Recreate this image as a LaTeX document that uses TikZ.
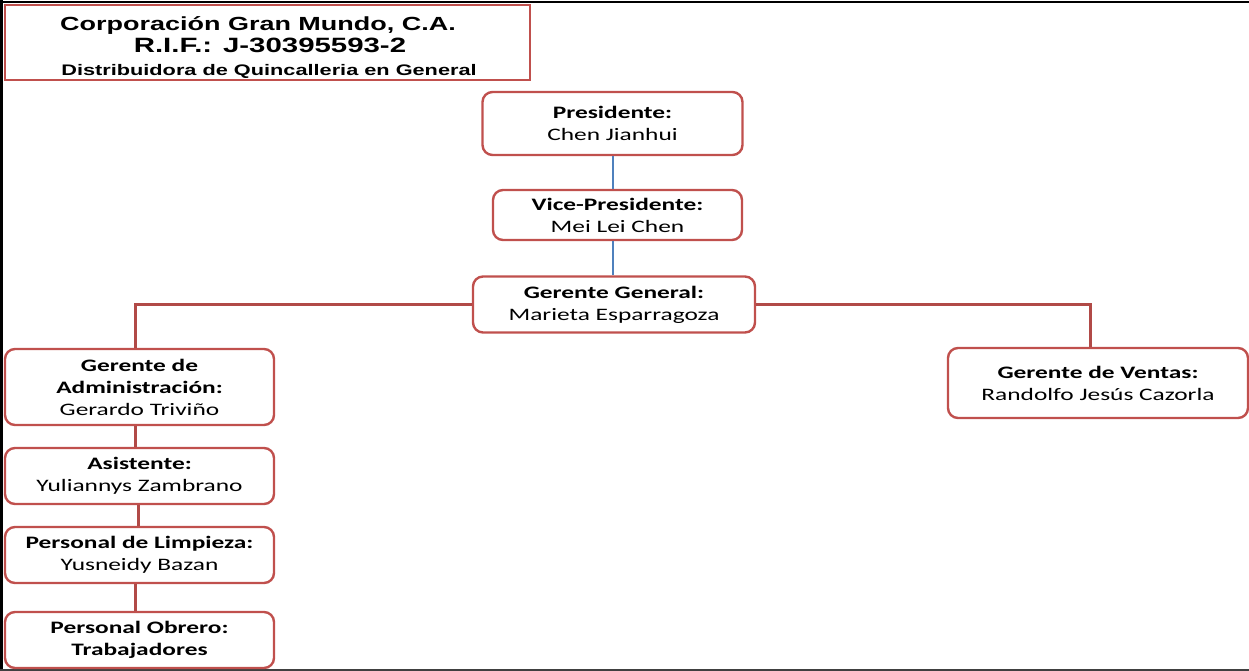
\documentclass[tikz,border=0pt]{standalone}
\usepackage{fontspec}
\setmainfont{Carlito}[FakeStretch=1.45]
\newfontfamily\titlefont{Liberation Sans}[FakeStretch=1.42]
\definecolor{boxred}{RGB}{192,80,77}
\definecolor{lineblue}{RGB}{79,129,189}
\tikzset{
  orgbox/.style 2 args={draw=boxred, line width=2.4pt, rounded corners=10pt, fill=white,
    minimum width=#1pt, minimum height=#2pt, inner sep=0pt, align=center,
    font=\fontsize{17.5}{22}\selectfont},
  redline/.style={draw=boxred!92!black, line width=3pt},
  blueline/.style={draw=lineblue, line width=1.1pt},
  frameline/.style={draw=black, line width=#1pt},
  titletext/.style={anchor=base, inner sep=0pt},
}
\begin{document}
\begin{tikzpicture}[x=1pt,y=-1pt]
\useasboundingbox (0,0) rectangle (1249,671);
% frame
\draw[frameline=2] (0,2) -- (1249,2);
\draw[frameline=3] (1.5,0) -- (1.5,671);
\draw[draw=black!75, line width=2pt] (0,669.5) -- (1249,669.5);
% title
\node[draw=boxred, line width=2.6pt, fill=white, minimum width=525pt, minimum height=75pt,
  inner sep=0pt] (title) at (267.5,42.5) {};
\node[titletext, font=\titlefont\bfseries\fontsize{19}{22}\selectfont] (t1) at (258,31) {Corporación Gran Mundo, C.A.};
\node[titletext, font=\titlefont\bfseries\fontsize{20.7}{22}\selectfont] (t2) at (270,53) {R.I.F.: J-30395593-2};
\node[titletext, font=\titlefont\bfseries\fontsize{15.3}{22}\selectfont] (t3) at (269,76) {Distribuidora de Quincalleria en General};
% boxes
\node[orgbox={260}{63}] (pres) at (612.5,123.5) {\textbf{Presidente:}\\Chen Jianhui};
\node[orgbox={249}{50}] (vp) at (617.5,215) {\textbf{Vice-Presidente:}\\Mei Lei Chen};
\node[orgbox={282}{56}] (gg) at (614,304.5) {\textbf{Gerente General:}\\Marieta Esparragoza};
\node[orgbox={269}{76}] (adm) at (139.5,387) {\textbf{Gerente de}\\\textbf{Administración:}\\Gerardo Triviño};
\node[orgbox={300}{70}] (ven) at (1098,383) {\textbf{Gerente de Ventas:}\\Randolfo Jesús Cazorla};
\node[orgbox={269}{56}] (asi) at (139.5,476) {\textbf{Asistente:}\\Yuliannys Zambrano};
\node[orgbox={269}{56}] (lim) at (139.5,555) {\textbf{Personal de Limpieza:}\\Yusneidy Bazan};
\node[orgbox={269}{56}] (obr) at (139.5,640) {\textbf{Personal Obrero:}\\\textbf{Trabajadores}};
% connectors
\draw[blueline] ([xshift=0.5pt]pres.south) -- ([xshift=0.5pt]pres.south |- vp.north);
\draw[blueline] ([xshift=-4.5pt]vp.south) -- ([xshift=-4.5pt]vp.south |- gg.north);
\draw[redline] (gg.west) -| ([xshift=-4.5pt]adm.north);
\draw[redline] (gg.east) -| ([xshift=-8pt]ven.north);
\draw[redline] ([xshift=-4.5pt]adm.south) -- ([xshift=-4.5pt]adm.south |- asi.north);
\draw[redline] ([xshift=-1.5pt]asi.south) -- ([xshift=-1.5pt]asi.south |- lim.north);
\draw[redline] ([xshift=-4.5pt]lim.south) -- ([xshift=-4.5pt]lim.south |- obr.north);
\end{tikzpicture}
\end{document}
